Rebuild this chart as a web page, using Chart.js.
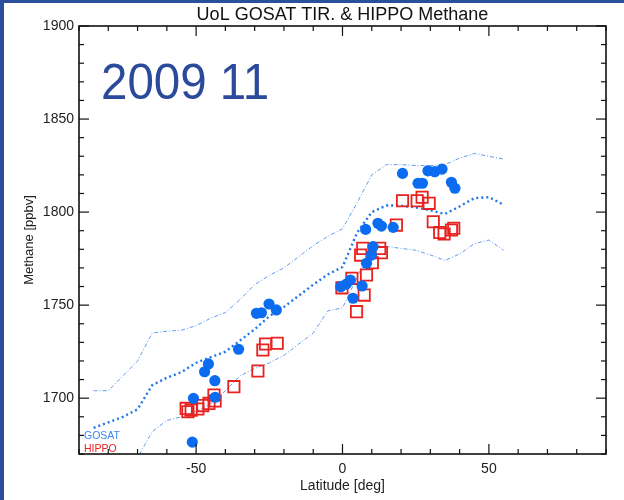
<!DOCTYPE html>
<html><head><meta charset="utf-8">
<script src="https://cdn.jsdelivr.net/npm/chart.js@4.4.1/dist/chart.umd.min.js"></script>
<style>html,body{margin:0;padding:0;background:#fff;}canvas{display:block}</style>
</head><body>
<canvas id="c" width="624" height="500"></canvas>
<script>
// ---- data ----
const gosatLat = [-51.3,-50.9,-47.1,-45.8,-43.6,-43.5,-35.5,-29.4,-27.7,-25.1,-22.6,-0.6,1.3,2.7,3.6,6.7,8.2,9.9,10.4,7.9,12.1,13.3,17.3,20.5,25.8,27.3,29.2,31.5,34.0,37.2,38.4];
const gosatCH4 = [1676.4,1699.9,1714.2,1718.4,1709.4,1700.5,1726.3,1745.6,1745.9,1750.6,1747.4,1759.9,1761.3,1763.5,1753.7,1760.3,1772.5,1776.9,1781.4,1790.7,1794.0,1792.5,1791.8,1820.8,1815.5,1815.5,1822.2,1821.7,1823.1,1816.0,1812.8];
const hippoLat = [-53.4,-52.8,-51.7,-49.4,-47.7,-45.6,-43.5,-43.9,-37.1,-28.9,-27.2,-26.3,-22.3,-0.2,3.2,4.8,7.4,8.2,6.2,6.9,10.2,12.7,13.3,18.4,20.5,25.5,27.2,29.6,31.0,33.2,34.7,37.2,38.0];
const hippoCH4 = [1694.5,1692.7,1693.6,1694.2,1696.0,1697.2,1698.5,1701.7,1706.2,1714.6,1725.9,1729.1,1729.5,1759.3,1764.4,1746.5,1755.4,1766.2,1776.9,1780.5,1772.8,1780.5,1778.2,1793.0,1806.1,1806.1,1808.0,1804.7,1794.8,1789.0,1788.2,1790.4,1791.3];
const modelLat   = [-85,-80,-75,-70,-65,-60,-55,-50,-45,-40,-35,-30,-25,-20,-15,-10,-5,0,5,10,15,20,25,30,35,40,45,50,55];
const modelMean  = [1684,1687,1690,1694,1707,1711,1714,1719,1722,1725,1731,1737,1744,1749,1755,1761,1766.5,1770.5,1789,1800,1803.5,1803.5,1802.5,1801,1799,1803,1807.5,1808,1804];
const modelUpper = [1704,1704,1712,1720,1735,1736,1736.5,1739,1743,1746,1753,1761,1766,1770,1776,1782,1787,1791,1805,1820,1825.5,1825.5,1825,1825,1825.5,1829,1831.5,1830,1828.5];
const modelLower = [1655,1660,1663,1668,1682,1688,1690,1693,1697,1704,1712,1716,1719,1723,1729,1735,1747,1748.5,1765,1782,1781.5,1780.5,1779.5,1777,1774,1777.5,1783,1785,1779.5];
const xTickLabels = [-50, 0, 50];
const yTickLabels = [1700, 1750, 1800, 1850, 1900];
const titleText = 'UoL GOSAT TIR. & HIPPO Methane';
const stampText = '2009 11';
const legendNames = ['GOSAT', 'HIPPO'];

const FONT = '"Liberation Sans", Arial, Helvetica, sans-serif';
const BORDER = '#2c4f9d';
const zip = (xs, ys) => xs.map((x, i) => ({x, y: ys[i]}));

const frame = {
  id: 'frame',
  beforeDraw(chart) {
    const c = chart.ctx;
    c.save();
    c.fillStyle = '#fff'; c.fillRect(0, 0, chart.width, chart.height);
    c.restore();
  },
  afterDraw(chart) {
    const c = chart.ctx, a = chart.chartArea, sx = chart.scales.x, sy = chart.scales.y;
    c.save();
    c.strokeStyle = '#111';
    c.lineWidth = 1.2;
    const seg = (x1, y1, x2, y2) => { c.beginPath(); c.moveTo(x1, y1); c.lineTo(x2, y2); c.stroke(); };
    sx.ticks.forEach(t => {
      const p = sx.getPixelForValue(t.value);
      const L = xTickLabels.includes(t.value) ? 10 : 5;
      seg(p, a.bottom, p, a.bottom - L); seg(p, a.top, p, a.top + L);
    });
    sy.ticks.forEach(t => {
      const p = sy.getPixelForValue(t.value);
      const L = yTickLabels.includes(t.value) ? 10 : 5;
      seg(a.left, p, a.left + L, p); seg(a.right, p, a.right - L, p);
    });
    c.lineWidth = 1.6;
    c.strokeRect(a.left, a.top, a.right - a.left, a.bottom - a.top);
    // texts
    const txt = (s, x, y, size, color, align, sxScale) => {
      c.save(); c.translate(x, y); c.scale(sxScale, 1);
      c.font = size + 'px ' + FONT; c.fillStyle = color; c.textAlign = align; c.textBaseline = 'alphabetic';
      c.fillText(s, 0, 0); c.restore();
    };
    txt(titleText, (a.left + a.right) / 2, 20, 18, '#111', 'center', 1);
    txt(stampText, 101, 99, 50, '#2b4a9b', 'left', 0.95);
    txt(legendNames[0], 84, 438.5, 10.5, '#3a86ee', 'left', 1);
    txt(legendNames[1], 84, 451.5, 10.5, '#f01e1e', 'left', 1);
    // page frame
    c.fillStyle = BORDER; c.fillRect(0, 0, 4, chart.height); c.fillRect(0, 0, chart.width, 3);
    c.restore();
  }
};

new Chart(document.getElementById('c'), {
  type: 'scatter',
  data: {
    datasets: [
      { label: legendNames[0], data: zip(gosatLat, gosatCH4), pointStyle: 'circle', pointRadius: 5.6,
        backgroundColor: '#0b6cf0', borderWidth: 0 },
      { label: legendNames[1], data: zip(hippoLat, hippoCH4), pointStyle: 'rect', pointRadius: 8,
        backgroundColor: 'rgba(0,0,0,0)', borderColor: '#e8221f', borderWidth: 1.8 },
      { label: 'mean', data: zip(modelLat, modelMean), showLine: true, pointRadius: 0, borderColor: '#2176ea',
        borderWidth: 2.4, borderDash: [2, 3], tension: 0 },
      { label: 'upper', data: zip(modelLat, modelUpper), showLine: true, pointRadius: 0, borderColor: 'rgba(80,145,240,0.9)',
        borderWidth: 1, borderDash: [4, 2, 1, 2], tension: 0 },
      { label: 'lower', data: zip(modelLat, modelLower), showLine: true, pointRadius: 0, borderColor: 'rgba(80,145,240,0.9)',
        borderWidth: 1, borderDash: [4, 2, 1, 2], tension: 0 }
    ]
  },
  options: {
    responsive: false, animation: false, devicePixelRatio: 1,
    layout: { padding: { left: 0, right: 18, top: 26, bottom: 0 } },
    plugins: { legend: { display: false }, tooltip: { enabled: false } },
    scales: {
      x: {
        type: 'linear', min: -90, max: 90,
        afterFit: s => { s.height = 46; },
        grid: { display: false, drawTicks: false }, border: { display: false },
        ticks: { stepSize: 10, autoSkip: false, maxRotation: 0, padding: 7, color: '#222',
                 font: { family: FONT, size: 14 },
                 callback: v => xTickLabels.includes(v) ? String(v) : '' },
        title: { display: true, text: 'Latitude [deg]', color: '#222', font: { family: FONT, size: 14 },
                 padding: { top: 0, bottom: 5 } }
      },
      y: {
        type: 'linear', min: 1670, max: 1900,
        afterFit: s => { s.width = 79; },
        grid: { display: false, drawTicks: false }, border: { display: false },
        ticks: { stepSize: 10, autoSkip: false, padding: 5, color: '#222',
                 font: { family: FONT, size: 14 },
                 callback: v => yTickLabels.includes(v) ? String(v) : '' },
        title: { display: true, text: 'Methane [ppbv]', color: '#222', font: { family: FONT, size: 13 },
                 padding: { top: 22, bottom: 0 } }
      }
    }
  },
  plugins: [frame]
});
</script>
</body></html>
